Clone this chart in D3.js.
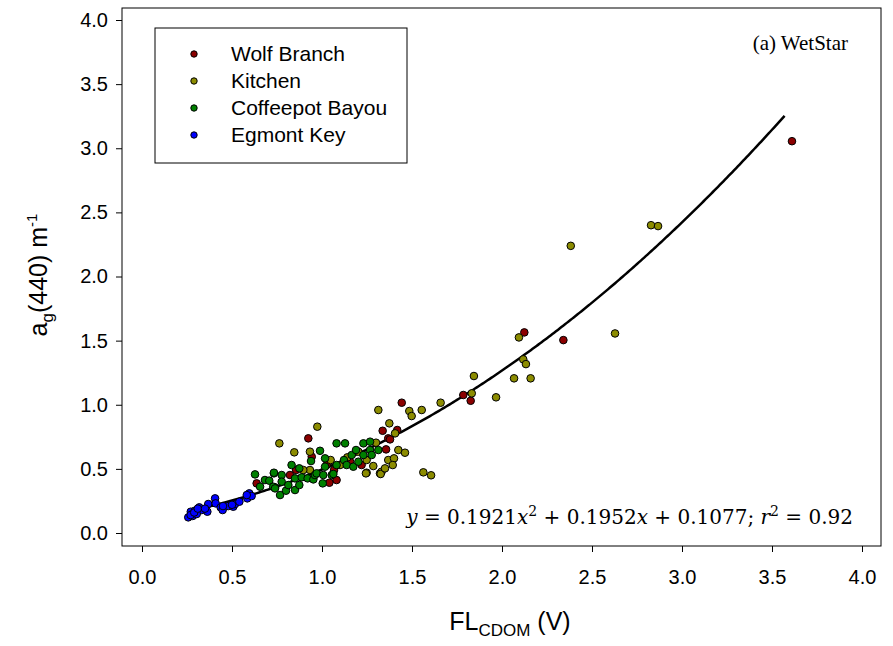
<!DOCTYPE html>
<html>
<head>
<meta charset="utf-8">
<script src="https://cdn.jsdelivr.net/npm/d3@7"></script>
<style>
  html, body { margin: 0; padding: 0; background: #fff; }
  svg { display: block; }
</style>
</head>
<body>
<svg id="chart" width="893" height="646"></svg>
<script>
// ---- data ----
const seriesNames = ["Wolf Branch", "Kitchen", "Coffeepot Bayou", "Egmont Key"];
const seriesColors = ["#8b0000", "#8c8c00", "#008000", "#0000ff"];
const xTicks = [0.0, 0.5, 1.0, 1.5, 2.0, 2.5, 3.0, 3.5, 4.0];
const yTicks = [0.0, 0.5, 1.0, 1.5, 2.0, 2.5, 3.0, 3.5, 4.0];
const fitCoef = [0.1921, 0.1952, 0.1077]; // a, b, c
const fitRange = [0.26, 3.57];

const wolfBranch = [
  [0.637,0.387],[0.924,0.738],[0.943,0.595],[0.856,0.491],[0.822,0.452],
  [1.081,0.413],[1.041,0.392],[1.026,0.530],[1.067,0.491],[1.156,0.556],
  [1.220,0.530],[1.356,0.652],[1.337,0.797],[1.368,0.738],[1.378,0.730],
  [1.418,0.803],[1.443,1.016],[1.785,1.076],[1.826,1.031],[2.124,1.564],
  [2.341,1.504],[3.611,3.055]
];
const kitchen = [
  [0.763,0.699],[0.846,0.629],[0.974,0.829],[0.933,0.634],[0.933,0.491],
  [0.896,0.491],[1.048,0.569],[1.100,0.530],[1.141,0.590],[1.202,0.634],
  [1.248,0.569],[1.248,0.470],[1.244,0.465],[1.285,0.522],[1.322,0.465],
  [1.331,0.478],[1.326,0.460],[1.350,0.504],[1.300,0.704],[1.313,0.959],
  [1.374,0.855],[1.406,0.777],[1.424,0.647],[1.461,0.626],[1.368,0.569],
  [1.400,0.582],[1.393,0.530],[1.485,0.951],[1.498,0.912],[1.554,0.959],
  [1.659,1.016],[1.563,0.473],[1.606,0.450],[1.832,1.089],[1.844,1.224],
  [1.967,1.058],[2.067,1.206],[2.159,1.206],[2.118,1.354],[2.133,1.317],
  [2.094,1.525],[2.382,2.239],[2.628,1.556],[2.828,2.400],[2.867,2.393]
];
const coffeepotBayou = [
  [0.628,0.457],[0.656,0.361],[0.683,0.413],[0.707,0.408],[0.733,0.465],
  [0.739,0.356],[0.733,0.470],[0.729,0.361],[0.739,0.348],[0.767,0.296],
  [0.776,0.452],[0.776,0.400],[0.800,0.330],[0.813,0.374],[0.831,0.530],
  [0.850,0.426],[0.850,0.335],[0.874,0.504],[0.874,0.374],[0.887,0.434],
  [0.920,0.426],[0.939,0.561],[0.952,0.418],[0.961,0.452],[0.970,0.465],
  [0.989,0.641],[1.004,0.387],[1.007,0.452],[1.017,0.582],[1.017,0.517],
  [1.054,0.452],[1.063,0.460],[1.081,0.699],[1.081,0.530],[1.122,0.569],
  [1.128,0.699],[1.137,0.530],[1.165,0.608],[1.174,0.517],[1.189,0.647],
  [1.202,0.556],[1.230,0.699],[1.230,0.608],[1.267,0.712],[1.267,0.647],
  [1.276,0.608],[1.313,0.647]
];
const egmontKey = [
  [0.257,0.122],[0.282,0.133],[0.271,0.166],[0.294,0.174],[0.318,0.200],
  [0.332,0.179],[0.304,0.148],[0.363,0.166],[0.368,0.226],[0.406,0.270],
  [0.409,0.231],[0.437,0.200],[0.448,0.179],[0.479,0.210],[0.507,0.205],
  [0.517,0.226],[0.541,0.244],[0.585,0.270],[0.596,0.309],[0.609,0.288],
  [0.582,0.296],[0.270,0.140],[0.290,0.160],[0.310,0.190],[0.350,0.190],
  [0.450,0.210],[0.500,0.220]
];
const allSeries = [wolfBranch, kitchen, coffeepotBayou, egmontKey];

// ---- drawing ----
const svg = d3.select("#chart");
const sans = "'Liberation Sans', Arial, sans-serif";
const serif = "'Liberation Serif', 'Times New Roman', serif";
const mathSerif = "'DejaVu Serif', serif";

const frame = {left: 122, right: 881, top: 8, bottom: 546};
const x = d3.scaleLinear().domain([0, 4]).range([142, 862]);
const y = d3.scaleLinear().domain([0, 4]).range([533, 20]);

// frame
svg.append("rect")
  .attr("x", frame.left).attr("y", frame.top)
  .attr("width", frame.right - frame.left).attr("height", frame.bottom - frame.top)
  .attr("fill", "none").attr("stroke", "#000").attr("stroke-width", 1);

// axes (ticks outside frame)
const yAxis = d3.axisLeft(y).tickValues(yTicks).tickFormat(d3.format(".1f")).tickSize(6).tickPadding(8);
const gy = svg.append("g").attr("transform", `translate(${frame.left},0)`).call(yAxis);
gy.select(".domain").remove();
gy.selectAll("text").attr("font-family", sans).attr("font-size", 20).attr("fill", "#000");

const xAxis = d3.axisBottom(x).tickValues(xTicks).tickFormat(d3.format(".1f")).tickSize(6).tickPadding(18);
const gx = svg.append("g").attr("transform", `translate(0,${frame.bottom})`).call(xAxis);
gx.select(".domain").remove();
gx.selectAll("text").attr("font-family", sans).attr("font-size", 20).attr("fill", "#000");

// axis titles
const xl = svg.append("text").attr("x", 510).attr("y", 630).attr("text-anchor", "middle")
  .attr("font-family", sans).attr("font-size", 25).attr("fill", "#000");
xl.append("tspan").text("FL");
xl.append("tspan").attr("font-size", 17).attr("dy", 6).text("CDOM");
xl.append("tspan").attr("dy", -6).text(" (V)");

const yl = svg.append("text").attr("transform", "translate(47,275) rotate(-90)")
  .attr("text-anchor", "middle").attr("font-family", sans).attr("font-size", 25).attr("fill", "#000");
yl.append("tspan").text("a");
yl.append("tspan").attr("font-size", 17).attr("dy", 6).text("g");
yl.append("tspan").attr("dy", -6).text("(440) m");
yl.append("tspan").attr("font-size", 15).attr("dy", -10).text("-1");

// regression curve
const fit = v => fitCoef[0] * v * v + fitCoef[1] * v + fitCoef[2];
const curveX = d3.range(fitRange[0], fitRange[1] + 1e-9, 0.01);
svg.append("path")
  .datum(curveX)
  .attr("d", d3.line().x(d => x(d)).y(d => y(fit(d))))
  .attr("fill", "none").attr("stroke", "#000").attr("stroke-width", 2.5);

// points
allSeries.forEach((s, i) => {
  svg.append("g").selectAll("circle").data(s).join("circle")
    .attr("cx", d => x(d[0])).attr("cy", d => y(d[1])).attr("r", 3.8)
    .attr("fill", seriesColors[i]).attr("stroke", "#000").attr("stroke-width", 1);
});

// legend
svg.append("rect").attr("x", 155).attr("y", 28).attr("width", 252).attr("height", 135)
  .attr("fill", "#fff").attr("stroke", "#000").attr("stroke-width", 1);
seriesNames.forEach((n, i) => {
  const cy = 54 + i * 27;
  svg.append("circle").attr("cx", 194).attr("cy", cy).attr("r", 3.2)
    .attr("fill", seriesColors[i]).attr("stroke", "#000").attr("stroke-width", 1);
  svg.append("text").attr("x", 231).attr("y", cy + 7)
    .attr("font-family", sans).attr("font-size", 21).attr("fill", "#000").text(n);
});

// panel label
svg.append("text").attr("x", 848).attr("y", 50).attr("text-anchor", "end")
  .attr("font-family", serif).attr("font-size", 21).attr("fill", "#000").text("(a) WetStar");

// equation
const eq = svg.append("text").attr("x", 853).attr("y", 524).attr("text-anchor", "end")
  .attr("font-family", mathSerif).attr("font-size", 20).attr("fill", "#000");
eq.append("tspan").attr("font-style", "italic").text("y");
eq.append("tspan").text(" = 0.1921");
eq.append("tspan").attr("font-style", "italic").text("x");
eq.append("tspan").attr("font-size", 14).attr("dy", -8).text("2");
eq.append("tspan").attr("dy", 8).text(" + 0.1952");
eq.append("tspan").attr("font-style", "italic").text("x");
eq.append("tspan").text(" + 0.1077; ");
eq.append("tspan").attr("font-style", "italic").text("r");
eq.append("tspan").attr("font-size", 14).attr("dy", -8).text("2");
eq.append("tspan").attr("dy", 8).text(" = 0.92");
</script>
</body>
</html>
